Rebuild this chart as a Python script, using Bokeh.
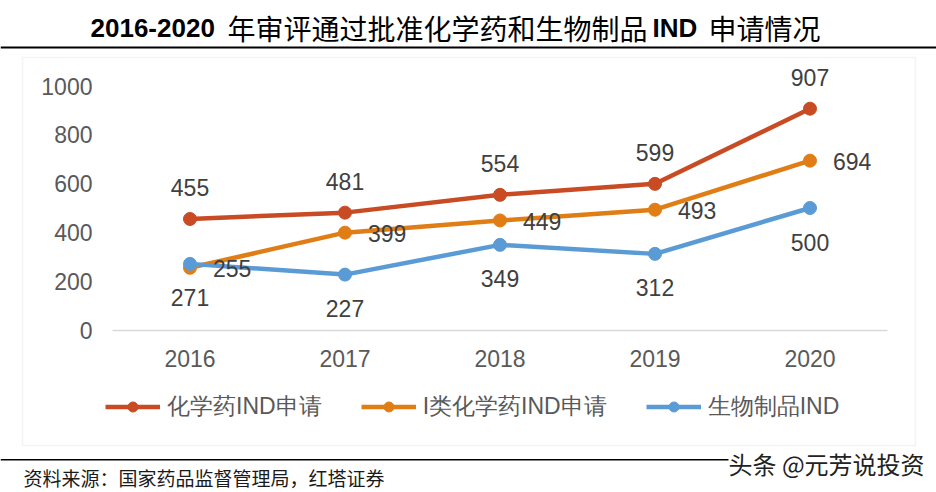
from bokeh.plotting import figure
from bokeh.models import (ColumnDataSource, Range1d, Label, BoxAnnotation,
                          Legend, LegendItem, FixedTicker)
from bokeh.core.properties import value
from bokeh.embed import file_html
from bokeh.resources import INLINE

# ---- data ----
years = ["2016", "2017", "2018", "2019", "2020"]
chem_ind = [455, 481, 554, 599, 907]
class1_chem_ind = [255, 399, 449, 493, 694]
bio_ind = [271, 227, 349, 312, 500]
series_names = ["化学药IND申请", "I类化学药IND申请", "生物制品IND"]
y_ticks = [0, 200, 400, 600, 800, 1000]

title_parts = ["2016-2020", "年审评通过批准化学药和生物制品", "IND", "申请情况"]
source_note = "资料来源：国家药品监督管理局，红塔证券"
watermark = "头条 @元芳说投资"

# ---- layout / styles ----
W, H = 936, 492
CAT_X0, CAT_STEP = 189.5, 155.0     # pixel of first category, pixels per category
ZERO_Y, PX_PER_UNIT = 329.5, 0.244  # pixel of value 0, pixels per unit
colors = ["#C84B23", "#E07E15", "#5B9BD5"]
label_styles = [(0, -31, "center"), (23, 1, "left"), (0, 34, "center")]
LATIN = "Liberation Sans"
CJK = "Noto Sans CJK SC"

xi = list(range(len(years)))
x_range = Range1d(-CAT_X0 / CAT_STEP, (W - CAT_X0) / CAT_STEP)
y_range = Range1d((ZERO_Y - H) / PX_PER_UNIT, ZERO_Y / PX_PER_UNIT)

p = figure(width=W, height=H, x_range=x_range, y_range=y_range,
           output_backend="svg", toolbar_location=None,
           min_border_left=0, min_border_right=0, min_border_top=0, min_border_bottom=0)
p.outline_line_color = None
p.background_fill_color = "white"
p.border_fill_color = "white"
p.xgrid.visible = False
p.ygrid.visible = False

items = []
sources = []
for vals, name, color in zip([chem_ind, class1_chem_ind, bio_ind], series_names, colors):
    src = ColumnDataSource(dict(x=xi, y=vals, t=[str(v) for v in vals]))
    sources.append(src)
    r1 = p.line("x", "y", source=src, line_color=color, line_width=4.5)
    r2 = p.scatter("x", "y", source=src, size=13, fill_color=color, line_color=color)
    items.append(LegendItem(label=name, renderers=[r1, r2]))

for src, (dx, dy, align) in zip(sources, label_styles):
    p.text("x", "y", text="t", source=src, x_offset=dx, y_offset=dy,
           text_align=align, text_baseline="middle",
           text_font=value(LATIN), text_font_size="23px", text_color="#404040")

# axes
p.xaxis.fixed_location = 0
p.xaxis.bounds = (-0.5, len(years) - 0.5)
p.xaxis.ticker = FixedTicker(ticks=xi)
p.xaxis.major_label_overrides = {i: y for i, y in zip(xi, years)}
p.xaxis.axis_line_color = "#d9d9d9"
p.xaxis.axis_line_width = 1.5
p.xaxis.major_tick_line_color = None
p.xaxis.minor_tick_line_color = None
p.xaxis.major_label_text_font = LATIN
p.xaxis.major_label_text_font_size = "23px"
p.xaxis.major_label_text_color = "#595959"
p.xaxis.major_label_standoff = 14

p.yaxis.fixed_location = -0.5
p.yaxis.bounds = (y_ticks[0], y_ticks[-1])
p.yaxis.ticker = FixedTicker(ticks=y_ticks)
p.yaxis.axis_line_color = None
p.yaxis.major_tick_line_color = None
p.yaxis.minor_tick_line_color = None
p.yaxis.major_tick_out = 0
p.yaxis.major_label_text_font = LATIN
p.yaxis.major_label_text_font_size = "23px"
p.yaxis.major_label_text_color = "#595959"
p.yaxis.major_label_standoff = 20

# legend
legend = Legend(items=items, location=(105, 70), orientation="horizontal",
                glyph_width=55, glyph_height=25, label_standoff=7, spacing=39,
                padding=0, margin=0, border_line_color=None, background_fill_alpha=0,
                label_text_font=LATIN, label_text_font_size="23px",
                label_text_color="#595959")
p.add_layout(legend)

# boxes / rules (canvas units)
def canvas_box(l, r, t, b, **kw):
    return BoxAnnotation(left=l, right=r, top=t, bottom=b,
                         left_units="canvas", right_units="canvas",
                         top_units="canvas", bottom_units="canvas", **kw)

p.add_layout(canvas_box(22, 915, 57, 445, fill_alpha=0, line_color="#d9d9d9", line_width=1.5))
p.add_layout(canvas_box(0, W, 46, 48, fill_color="black", fill_alpha=1, line_color=None))
p.add_layout(canvas_box(0, 728, 458.5, 460, fill_color="black", fill_alpha=1, line_color=None))

# title
title_x = [90, 227, 652, 708]
title_bold = [True, False, True, False]
for txt, tx, b in zip(title_parts, title_x, title_bold):
    p.add_layout(Label(x=tx, y=27, x_units="canvas", y_units="canvas", text=txt,
                       text_align="left", text_baseline="middle",
                       text_font=LATIN if b else CJK,
                       text_font_style="bold" if b else "normal",
                       text_font_size="26px" if b else "28px", text_color="black"))

p.add_layout(Label(x=23, y=477, x_units="canvas", y_units="canvas", text=source_note,
                   text_align="left", text_baseline="middle", text_font=CJK,
                   text_font_size="19px", text_color="#1a1a1a"))
p.add_layout(Label(x=728, y=463, x_units="canvas", y_units="canvas", text=watermark,
                   text_align="left", text_baseline="middle", text_font=CJK,
                   text_font_size="24px", text_color="#222222"))

open("out.html", "w").write(file_html(p, INLINE))
